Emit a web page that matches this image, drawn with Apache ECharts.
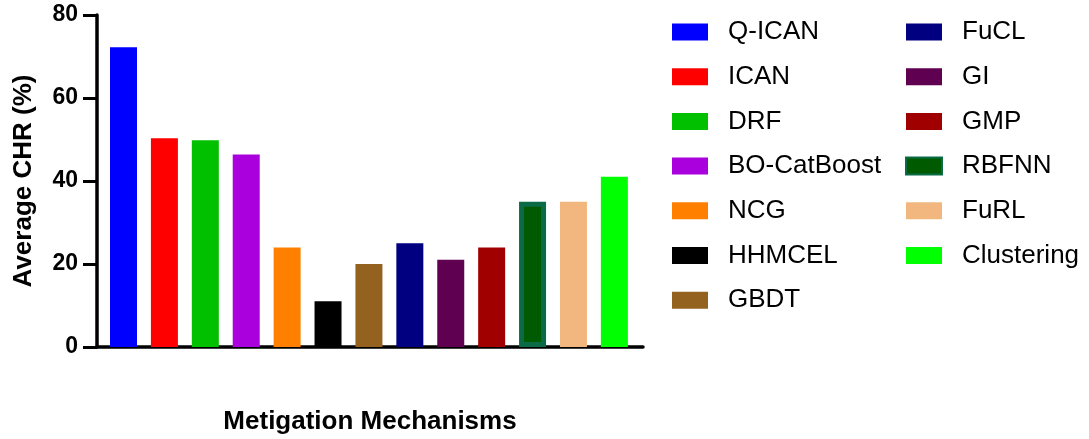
<!DOCTYPE html>
<html>
<head>
<meta charset="utf-8">
<script src="https://cdn.jsdelivr.net/npm/echarts@6/dist/echarts.min.js"></script>
<style>
  html, body { margin: 0; padding: 0; background: #fff; }
  #chart { width: 1089px; height: 439px; }
</style>
</head>
<body>
<div id="chart"></div>
<script>
// 各机制名称和平均 CHR 值
var categories = ['Q-ICAN', 'ICAN', 'DRF', 'BO-CatBoost', 'NCG', 'HHMCEL', 'GBDT',
                  'FuCL', 'GI', 'GMP', 'RBFNN', 'FuRL', 'Clustering'];
var chrValues = [72.2, 50.3, 49.8, 46.4, 24, 11, 20, 25, 21, 24, 35, 35, 41];
var yTicks = [0, 20, 40, 60, 80];
var barColors = ['#0000ff', '#ff0000', '#00c000', '#aa00dd', '#ff8000', '#000000', '#93621f',
                 '#000080', '#600050', '#a00000', '#005a00', '#f2b77e', '#00ff00'];

var font = "'Liberation Sans', Arial, sans-serif";

var series = categories.map(function (name, i) {
    var s = {
        name: name,
        type: 'bar',
        stack: 'all',
        barWidth: 27,
        data: [[i, chrValues[i]]],
        itemStyle: { color: barColors[i] }
    };
    // RBFNN 有深绿色边框
    if (name == 'RBFNN') {
        s.barWidth = 23;
        s.itemStyle.borderColor = '#0b6b47';
        s.itemStyle.borderWidth = 5;
    }
    return s;
});

var legendStyle = {
    orient: 'vertical',
    icon: 'rect',
    padding: 0,
    itemWidth: 36,
    itemHeight: 17,
    itemGap: 18.7,
    top: 19,
    textStyle: { fontFamily: font, fontSize: 26, color: '#000', lineHeight: 26, padding: [0, 0, 0, 15] }
};

var chart = echarts.init(document.getElementById('chart'));
chart.setOption({
    animation: false,
    backgroundColor: '#fff',
    legend: [
        Object.assign({ left: 672, data: categories.slice(0, 7) }, legendStyle),
        Object.assign({ left: 905, data: categories.slice(7) }, legendStyle)
    ],
    grid: { left: 97, right: 446, top: 15, bottom: 92, outerBoundsMode: 'none', containLabel: false },
    xAxis: {
        type: 'value',
        min: -0.648,
        max: 12.7,
        name: 'Metigation Mechanisms',
        nameLocation: 'middle',
        nameGap: 62,
        nameTextStyle: { fontFamily: font, fontSize: 26, fontWeight: 'bold', color: '#000' },
        axisLine: { show: true, onZero: false, lineStyle: { color: '#000', width: 3.5 } },
        axisTick: { show: false },
        axisLabel: { show: false },
        splitLine: { show: false }
    },
    yAxis: {
        type: 'value',
        min: yTicks[0],
        max: yTicks[yTicks.length - 1],
        interval: 20,
        name: 'Average CHR (%)',
        nameLocation: 'middle',
        nameGap: 60,
        nameTextStyle: { fontFamily: font, fontSize: 26, fontWeight: 'bold', color: '#000' },
        axisLine: { show: true, onZero: false, lineStyle: { color: '#000', width: 3.5 } },
        axisTick: { show: true, length: 14, lineStyle: { color: '#000', width: 3 } },
        axisLabel: { fontFamily: font, fontSize: 23, fontWeight: 'bold', color: '#000', margin: 19 },
        splitLine: { show: false }
    },
    series: series
});
</script>
</body>
</html>
